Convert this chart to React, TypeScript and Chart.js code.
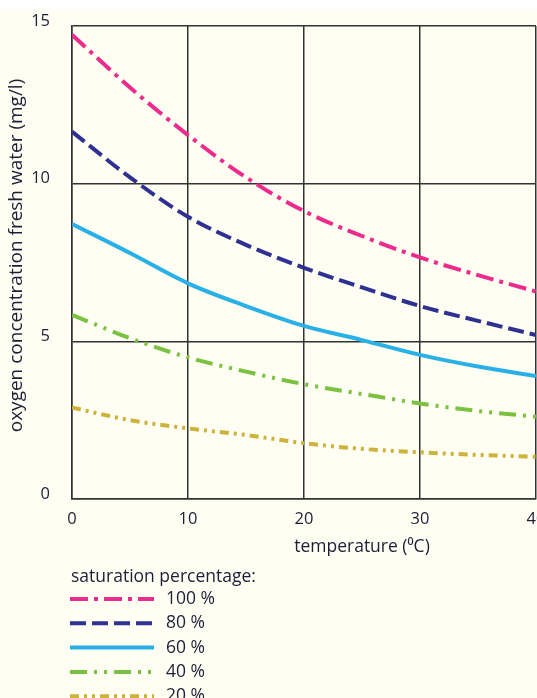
import React, { useEffect, useRef } from "react";
import { Chart, registerables } from "chart.js";

Chart.register(...registerables);

const temperatures = [0, 5, 10, 15, 20, 25, 30, 35, 40];
const sat100 = [14.72, 13.05, 11.54, 10.2, 9.13, 8.34, 7.66, 7.1, 6.58];
const sat80 = [11.65, 10.2, 8.95, 8.06, 7.33, 6.71, 6.12, 5.65, 5.2];
const sat60 = [8.72, 7.8, 6.84, 6.12, 5.49, 5.04, 4.57, 4.2, 3.9];
const sat40 = [5.84, 5.1, 4.49, 4.04, 3.64, 3.33, 3.03, 2.79, 2.61];
const sat20 = [2.9, 2.5, 2.24, 2.03, 1.77, 1.59, 1.48, 1.4, 1.34];

const seriesLabels = ["100 %", "80 %", "60 %", "40 %", "20 %"];
const seriesValues = [sat100, sat80, sat60, sat40, sat20];
const seriesColors = ["#ec2b8c", "#2e3192", "#29b0e6", "#7cc242", "#cdb23c"];
const seriesDashes: number[][] = [
  [18, 6, 4, 6],
  [16, 6],
  [],
  [17, 7, 3, 7, 3, 7],
  [9, 5, 3, 5, 3, 5],
];

const xTicks = [0, 10, 20, 30, 40];
const yTicks = [0, 5, 10, 15];
const xTitle = "temperature (⁰C)";
const yTitle = "oxygen concentration fresh water (mg/l)";
const legendTitle = "saturation percentage:";

const FONT = "'Open Sans', sans-serif";
const TEXT = "#1e1e38";
const CREAM = "#fffef3";

export default function App() {
  const ref = useRef<HTMLCanvasElement | null>(null);

  useEffect(() => {
    if (!ref.current) return;

    const bgPlugin = {
      id: "bg",
      beforeDraw(chart: any) {
        const { ctx, width, height } = chart;
        ctx.save();
        ctx.fillStyle = "#ffffff";
        ctx.fillRect(0, 0, width, height);
        ctx.fillStyle = CREAM;
        ctx.fillRect(0, 9, width, height - 9);
        ctx.restore();
      },
    };

    const extrasPlugin = {
      id: "extras",
      afterDraw(chart: any) {
        const { ctx, chartArea } = chart;
        ctx.save();
        ctx.fillStyle = TEXT;
        ctx.textBaseline = "middle";
        // y title
        ctx.save();
        ctx.font = `19px ${FONT}`;
        ctx.textAlign = "center";
        ctx.translate(16.5, 255.5);
        ctx.rotate(-Math.PI / 2);
        ctx.fillText(yTitle, 0, 0);
        ctx.restore();
        // x title
        ctx.font = `17.5px ${FONT}`;
        ctx.textAlign = "center";
        const tx = chartArea.left + (chartArea.right - chartArea.left) * 0.625;
        ctx.fillText(xTitle, tx, 547);
        // legend
        ctx.textAlign = "left";
        ctx.fillText(legendTitle, 71, 577);
        chart.data.datasets.forEach((ds: any, i: number) => {
          const y = 599 + i * 24.3;
          ctx.beginPath();
          ctx.strokeStyle = ds.borderColor;
          ctx.lineWidth = ds.borderWidth;
          ctx.lineCap = "butt";
          ctx.setLineDash(ds.borderDash || []);
          ctx.moveTo(70, y);
          ctx.lineTo(154, y);
          ctx.stroke();
          ctx.setLineDash([]);
          ctx.fillStyle = TEXT;
          ctx.fillText(ds.label, 166, y);
        });
        ctx.restore();
      },
    };

    const chart = new Chart(ref.current, {
      type: "line",
      data: {
        datasets: seriesLabels.map((label, i) => ({
          label,
          data: temperatures.map((t, j) => ({ x: t, y: seriesValues[i][j] })),
          borderColor: seriesColors[i],
          backgroundColor: seriesColors[i],
          borderWidth: 4,
          borderDash: seriesDashes[i],
          borderCapStyle: "butt" as const,
          pointRadius: 0,
          fill: false,
          cubicInterpolationMode: "monotone" as const,
        })),
      },
      options: {
        animation: false,
        responsive: false,
        events: [],
        layout: { padding: { top: 26, right: 1, bottom: 169, left: 0 } },
        plugins: {
          legend: { display: false },
          tooltip: { enabled: false },
        },
        scales: {
          x: {
            type: "linear",
            min: 0,
            max: 40,
            afterBuildTicks: (s: any) => {
              s.ticks = xTicks.map((v) => ({ value: v }));
            },
            afterFit: (s: any) => {
              s.height = 30;
              s.paddingLeft = 0;
              s.paddingRight = 0;
            },
            grid: { color: "#333333", lineWidth: 1.5, drawTicks: false },
            border: { display: true, color: "#333333", width: 1.5 },
            ticks: {
              padding: 10,
              color: TEXT,
              font: { family: FONT, size: 16.5 },
              maxRotation: 0,
            },
          },
          y: {
            type: "linear",
            min: 0,
            max: 15,
            afterBuildTicks: (s: any) => {
              s.ticks = yTicks.map((v) => ({ value: v }));
            },
            afterFit: (s: any) => {
              s.width = 72;
              s.paddingTop = 0;
              s.paddingBottom = 0;
            },
            grid: { color: "#333333", lineWidth: 1.5, drawTicks: false },
            border: { display: true, color: "#333333", width: 1.5 },
            ticks: {
              padding: 22,
              labelOffset: -5,
              color: TEXT,
              font: { family: FONT, size: 16.5 },
            },
          },
        },
      },
      plugins: [bgPlugin, extrasPlugin],
    });

    return () => chart.destroy();
  }, []);

  return (
    <div style={{ position: "absolute", left: 0, top: 0, width: 537, height: 698 }}>
      <canvas ref={ref} width={537} height={698} style={{ display: "block", width: 537, height: 698 }} />
    </div>
  );
}
